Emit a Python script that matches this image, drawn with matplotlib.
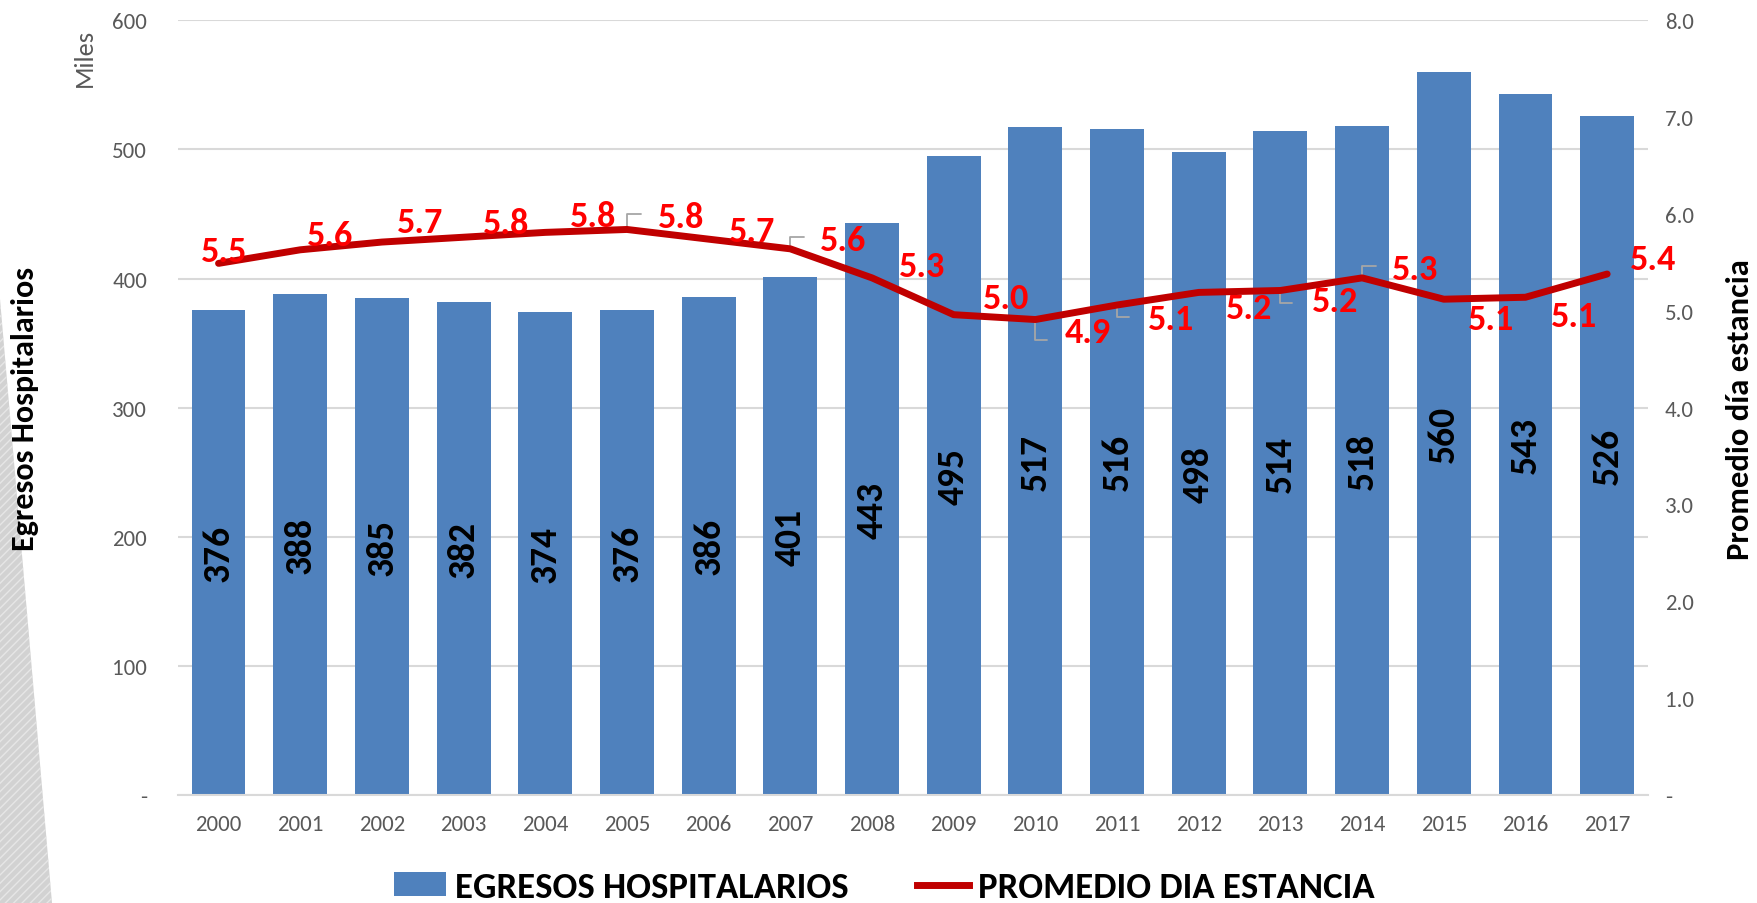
import matplotlib
matplotlib.use("Agg")
import matplotlib.pyplot as plt
from matplotlib.patches import Polygon, Patch
from matplotlib.lines import Line2D
import numpy as np

# ---------------- data ----------------
years = ['2000', '2001', '2002', '2003', '2004', '2005', '2006', '2007', '2008',
         '2009', '2010', '2011', '2012', '2013', '2014', '2015', '2016', '2017']
egresos = [376, 388, 385, 382, 374, 376, 386, 401, 443,
           495, 517, 516, 498, 514, 518, 560, 543, 526]
promedio = [5.49, 5.63, 5.71, 5.76, 5.81, 5.84, 5.74, 5.64, 5.34,
            4.96, 4.91, 5.06, 5.19, 5.21, 5.34, 5.12, 5.14, 5.38]
left_ticks = [0, 100, 200, 300, 400, 500, 600]
left_tick_labels = ['-', '100', '200', '300', '400', '500', '600']
right_ticks = [0, 1, 2, 3, 4, 5, 6, 7, 8]
right_tick_labels = ['-', '1.0', '2.0', '3.0', '4.0', '5.0', '6.0', '7.0', '8.0']

# ---------------- styles ----------------
lab_dx = [6, 30, 38, 43, 48, 54, 43, 53, 50, 52, 52, 54, 50, 55, 53, 47, 49, 46]
lab_dy = [12, 15, 20, 14, 16, 12, 8, 9, 12, 17, -12, -14, -16, -11, 9, -20, -19, 15]
leaders = {5: (14, 15), 7: (14, 12), 10: (12, -20), 11: (12, -12), 13: (12, -13), 14: (14, 12)}

BAR_C = '#4F81BD'
LINE_C = '#C00000'
LAB_C = '#FF0000'
TICK_C = '#595959'
GRID_C = '#D9D9D9'
CAL = ['Carlito', 'Open Sans', 'DejaVu Sans']

plt.rcParams['font.family'] = CAL

W, H = 1758, 904
fig = plt.figure(figsize=(W / 100, H / 100), dpi=100)

deco = Polygon([(0, 1 - 300 / H), (52 / W, 0), (0, 0)], closed=True,
               transform=fig.transFigure, facecolor='#D2D2D2', edgecolor='#E6E6E6',
               hatch='////', lw=0, zorder=0)
fig.patches.append(deco)

ax = fig.add_axes([177.7 / W, 108 / H, (1648 - 177.7) / W, (796 - 21.3) / H])
ax2 = ax.twinx()

x = np.arange(len(years))
bars = ax.bar(x, egresos, width=0.66, color=BAR_C, zorder=2)
ax.bar_label(bars, labels=[str(v) for v in egresos], label_type='center',
             rotation=90, fontsize=27, fontweight='bold', color='black')

ax.set_xlim(-0.5, len(years) - 0.5)
ax.set_ylim(0, 600)
ax.set_yticks(left_ticks)
ax.set_yticklabels(left_tick_labels)
ax.set_xticks(x)
ax.set_xticklabels(years)
ax.grid(axis='y', color=GRID_C, lw=1.5)
ax.set_axisbelow(True)
for s in ['top', 'right', 'left']:
    ax.spines[s].set_visible(False)
ax.spines['bottom'].set_color(GRID_C)
ax.spines['bottom'].set_linewidth(1.5)
ax.tick_params(axis='both', length=0, colors=TICK_C, labelsize=16.5)
ax.tick_params(axis='y', pad=22)
ax.tick_params(axis='x', pad=14)

ax2.plot(x, promedio, color=LINE_C, lw=5, solid_capstyle='round',
         solid_joinstyle='round', zorder=3)
ax2.set_ylim(0, 8)
ax2.set_yticks(right_ticks)
ax2.set_yticklabels(right_tick_labels)
for s in ax2.spines.values():
    s.set_visible(False)
ax2.tick_params(axis='y', length=0, colors=TICK_C, labelsize=16.5, pad=12)

for i, v in enumerate(promedio):
    ax2.annotate(f'{v:.1f}', xy=(i, v), xytext=(lab_dx[i], lab_dy[i]),
                 textcoords='offset pixels', ha='center', va='center',
                 fontsize=26, fontweight='bold', color=LAB_C, zorder=4)
for i, (dx, dy) in leaders.items():
    ax2.annotate('', xy=(i, promedio[i]), xytext=(dx, dy), textcoords='offset pixels',
                 arrowprops=dict(arrowstyle='-', color='#A6A6A6', lw=1.3,
                                 connectionstyle='angle,angleA=0,angleB=90,rad=0',
                                 shrinkA=0, shrinkB=0), zorder=2.5)

fig.text(25 / W, 1 - 409 / H, 'Egresos Hospitalarios', rotation=90, ha='center',
         va='center', fontsize=23, fontweight='bold', color='black')
fig.text(1740 / W, 1 - 410 / H, 'Promedio día estancia', rotation=90, ha='center',
         va='center', fontsize=23.5, fontweight='bold', color='black')
fig.text(84 / W, 1 - 58 / H, 'Miles', rotation=90, ha='center', va='center',
         fontsize=19, color=TICK_C)

handles = [Patch(facecolor=BAR_C), Line2D([0], [0], color=LINE_C, lw=5)]
fig.legend(handles, ['EGRESOS HOSPITALARIOS', 'PROMEDIO DIA ESTANCIA'],
           loc='lower center', bbox_to_anchor=(0.503, 0.0), ncol=2,
           frameon=False, handlelength=1.42, handleheight=0.62, handletextpad=0.25,
           columnspacing=1.85, borderpad=0, borderaxespad=0,
           prop=dict(weight='bold', size=26.5))

fig.savefig('out.png', dpi=100)
